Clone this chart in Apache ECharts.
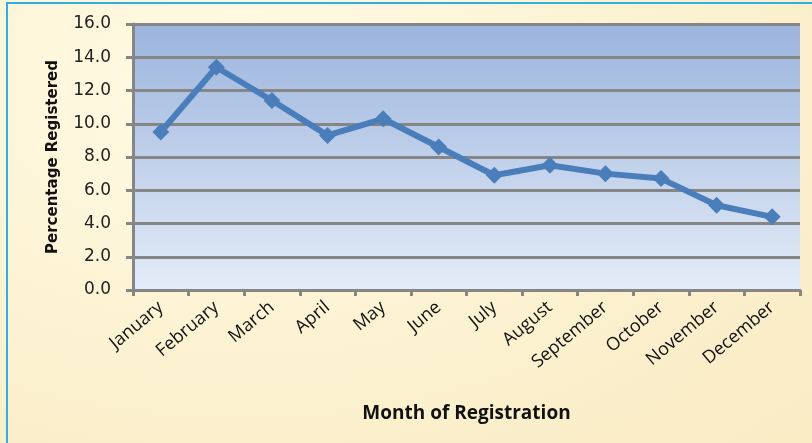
<!DOCTYPE html>
<html>
<head>
    <meta charset="utf-8" />
    <title>Registration by month</title>
    <style>
        html, body { margin: 0; padding: 0; }
        #main {
            width: 812px;
            height: 443px;
            background: radial-gradient(ellipse at 30% 20%, #fffbe6 0%, #fcf1cf 60%, #f9ebc4 100%);
        }
    </style>
</head>
<body>
    <div id="main"></div>
    <script src="https://cdn.jsdelivr.net/npm/echarts@6/dist/echarts.min.js"></script>
    <script type="text/javascript">
        // data
        var months = ['January', 'February', 'March', 'April', 'May', 'June',
            'July', 'August', 'September', 'October', 'November', 'December'];
        var percentRegistered = [9.5, 13.4, 11.4, 9.3, 10.3, 8.6, 6.9, 7.5, 7.0, 6.7, 5.1, 4.4];
        var yTicks = [0, 2, 4, 6, 8, 10, 12, 14, 16];

        var chartDom = document.getElementById('main');
        var myChart = echarts.init(chartDom);
        var option;

        option = {
            backgroundColor: 'transparent',
            graphic: [
                {
                    type: 'rect',
                    shape: { x: 7, y: 3, width: 820, height: 460 },
                    style: { fill: 'none', stroke: '#2fb0e3', lineWidth: 2 },
                    silent: true
                }
            ],
            grid: {
                left: 133,
                right: 12,
                top: 24,
                bottom: 153,
                show: true,
                borderWidth: 0,
                backgroundColor: new echarts.graphic.LinearGradient(0, 0, 0, 1, [
                    { offset: 0, color: '#9bb4dd' },
                    { offset: 1, color: '#e4ecf7' }
                ])
            },
            xAxis: {
                type: 'category',
                data: months,
                boundaryGap: true,
                name: 'Month of Registration',
                nameLocation: 'middle',
                nameGap: 114,
                nameTextStyle: {
                    fontFamily: 'Open Sans',
                    fontWeight: 'bold',
                    fontSize: 19,
                    color: '#111'
                },
                axisLine: { lineStyle: { color: '#868686', width: 3 } },
                axisTick: { show: true, length: 6, lineStyle: { color: '#868686', width: 3 } },
                axisLabel: {
                    rotate: 40,
                    interval: 0,
                    margin: 15,
                    fontFamily: 'Open Sans',
                    fontSize: 18,
                    color: '#111'
                },
                splitLine: { show: false }
            },
            yAxis: {
                type: 'value',
                min: yTicks[0],
                max: yTicks[yTicks.length - 1],
                interval: 2,
                name: 'Percentage Registered',
                nameLocation: 'middle',
                nameGap: 72,
                nameTextStyle: {
                    fontFamily: 'DejaVu Sans',
                    fontWeight: 'bold',
                    fontSize: 15,
                    color: '#111'
                },
                axisLine: { show: true, lineStyle: { color: '#868686', width: 3 } },
                axisTick: { show: true, length: 7, lineStyle: { color: '#868686', width: 3 } },
                axisLabel: {
                    margin: 22,
                    fontFamily: 'DejaVu Sans',
                    fontSize: 17,
                    color: '#222',
                    formatter: function (v) { return v.toFixed(1); }
                },
                splitLine: { show: true, lineStyle: { color: '#868686', width: 3 } }
            },
            series: [
                {
                    name: 'Percentage Registered',
                    type: 'line',
                    data: percentRegistered,
                    symbol: 'diamond',
                    symbolSize: 17,
                    lineStyle: { color: '#4a7ebb', width: 6 },
                    itemStyle: { color: '#4a7ebb' },
                    animation: false
                }
            ]
        };

        option && myChart.setOption(option);
    </script>
</body>
</html>
